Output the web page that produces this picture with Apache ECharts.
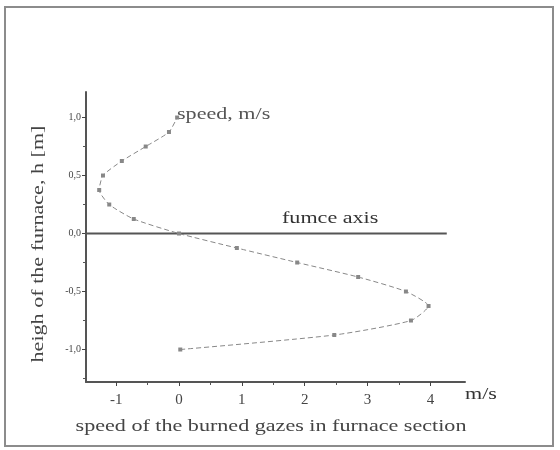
<!DOCTYPE html>
<html><head><meta charset="utf-8">
<script src="https://cdn.jsdelivr.net/npm/echarts@6/dist/echarts.min.js"></script>
<style>html,body{margin:0;padding:0;background:#fff}#c{width:560px;height:450px}</style>
</head><body><div id="c"></div>
<script>
const speed = [0.02, 2.47, 3.69, 3.97, 3.61, 2.85, 1.88, 0.92, 0.0, -0.72, -1.11, -1.27, -1.21, -0.91, -0.53, -0.16, -0.03];
const height = [-1.0, -0.875, -0.75, -0.625, -0.5, -0.375, -0.25, -0.125, 0.0, 0.125, 0.25, 0.375, 0.5, 0.625, 0.75, 0.875, 1.0];
const axisLine = [[-1.5, 0], [4.26, 0]];
const xTicks = [-1, 0, 1, 2, 3, 4];
const xMinor = [-0.5, 0.5, 1.5, 2.5, 3.5];
const yTicks = [-1.0, -0.5, 0.0, 0.5, 1.0];
const yTickLabels = ['-1,0', '-0,5', '0,0', '0,5', '1,0'];
const yMinor = [-1.25, -0.75, -0.25, 0.25, 0.75];

const serif = 'Liberation Serif';
const F = '17px "Liberation Serif"';
const S = 1.3;
const chart = echarts.init(document.getElementById('c'));
const X = {min: -1.48, max: 4.55};
const Y = {min: -1.28, max: 1.22};
chart.setOption({
  animation: false,
  grid: {left: 86, top: 92, width: 379, height: 290},
  xAxis: [{
    type: 'value', min: X.min, max: X.max,
    axisLine: {onZero: false, lineStyle: {color: '#555', width: 2}},
    axisTick: {customValues: xTicks, length: 4, lineStyle: {color: '#444'}},
    axisLabel: {customValues: xTicks, fontFamily: serif, fontSize: 15, color: '#444', margin: 11},
    splitLine: {show: false}
  }, {
    type: 'value', min: X.min, max: X.max, position: 'bottom',
    axisLine: {show: false, onZero: false},
    axisTick: {customValues: xMinor, length: 3, lineStyle: {color: '#555'}},
    axisLabel: {show: false}, splitLine: {show: false}
  }],
  yAxis: [{
    type: 'value', min: Y.min, max: Y.max,
    axisLine: {onZero: false, lineStyle: {color: '#555', width: 2}},
    axisTick: {customValues: yTicks, length: 4, lineStyle: {color: '#444'}},
    axisLabel: {customValues: yTicks, fontFamily: serif, fontSize: 10, color: '#444', margin: 5,
      formatter: v => yTickLabels[yTicks.findIndex(t => Math.abs(t - v) < 1e-6)]},
    splitLine: {show: false}
  }, {
    type: 'value', min: Y.min, max: Y.max, position: 'left',
    axisLine: {show: false, onZero: false},
    axisTick: {customValues: yMinor, length: 3, lineStyle: {color: '#555'}},
    axisLabel: {show: false}, splitLine: {show: false}
  }],
  series: [{
    type: 'line', data: axisLine, symbol: 'none',
    lineStyle: {color: '#555', width: 2}
  }, {
    type: 'line', data: speed.map((s, i) => [s, height[i]]),
    smooth: 0.2, symbol: 'rect', symbolSize: 4,
    itemStyle: {color: '#888'},
    lineStyle: {color: '#888', width: 1, type: [5, 3]}
  }],
  graphic: [
    {type: 'rect', shape: {x: 5, y: 7, width: 548, height: 439}, style: {fill: 'none', stroke: '#8c8c8c', lineWidth: 2}},
    {type: 'text', x: 177, y: 115, scaleX: S, style: {text: 'speed, m/s', font: F, fill: '#555', verticalAlign: 'middle'}},
    {type: 'text', x: 282, y: 219, scaleX: S, style: {text: 'fumce axis', font: F, fill: '#333', verticalAlign: 'middle'}},
    {type: 'text', x: 465, y: 395, scaleX: S, style: {text: 'm/s', font: F, fill: '#333', verticalAlign: 'middle'}},
    {type: 'text', x: 271, y: 427, scaleX: S, style: {text: 'speed of the burned gazes in furnace section', font: F, fill: '#444', align: 'center', verticalAlign: 'middle'}},
    {type: 'text', x: 39, y: 244, rotation: Math.PI / 2, scaleX: S, style: {text: 'heigh of the furnace, h [m]', font: F, fill: '#444', align: 'center', verticalAlign: 'middle'}}
  ]
});
</script></body></html>
